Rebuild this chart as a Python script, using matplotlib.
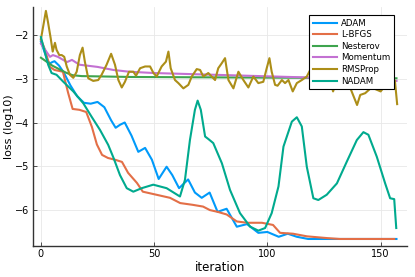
import numpy as np
import matplotlib
matplotlib.use("Agg")
import matplotlib.pyplot as plt

# series (iteration, log10 loss)
adam_x = [0, 2, 3, 4, 5, 6, 8, 10, 13, 16, 19, 22, 25, 28, 31, 33, 35, 37, 40, 43, 46, 49, 52,
          55.5, 58, 61, 65, 68, 71, 74.5, 78, 82, 86.5, 91, 96, 100, 105, 109, 113, 118, 157]
adam_y = [-2.15, -2.45, -2.6, -2.65, -2.62, -2.6, -2.7, -2.85, -3.15, -3.4, -3.55, -3.57, -3.53,
          -3.65, -3.95, -4.12, -4.05, -4.0, -4.3, -4.67, -4.58, -4.85, -5.29, -5.01, -5.2, -5.5,
          -5.3, -5.6, -5.72, -5.6, -6.04, -5.97, -6.38, -6.32, -6.52, -6.5, -6.61, -6.54, -6.61,
          -6.66, -6.66]

lbfgs_x = [0, 1.8, 4, 6, 9.7, 12, 14, 17, 20, 22.5, 24.7, 27, 29.6, 32.7, 35.8, 38.5, 42.4, 45,
           51, 57, 61.5, 67, 71.6, 74.6, 78, 82, 86.5, 91, 97.6, 102.5, 105.6, 111.3, 117.5,
           126.4, 132, 156]
lbfgs_y = [-2.1, -2.34, -2.73, -2.8, -2.84, -3.32, -3.69, -3.71, -3.76, -4.1, -4.5, -4.74, -4.81,
           -4.85, -4.9, -5.15, -5.38, -5.58, -5.65, -5.72, -5.84, -5.88, -5.92, -6.0, -6.04, -6.1,
           -6.26, -6.29, -6.29, -6.34, -6.52, -6.54, -6.6, -6.64, -6.66, -6.66]

nesterov_x = [0, 5, 11, 14, 18, 40, 80, 120, 157]
nesterov_y = [-2.52, -2.7, -2.86, -2.92, -2.94, -2.96, -2.97, -2.98, -2.99]

momentum_x = [0, 2, 4, 5.3, 7.5, 11.5, 13.7, 17, 25, 32, 39, 50, 70, 90, 110, 140, 157]
momentum_y = [-2.2, -2.35, -2.5, -2.46, -2.5, -2.62, -2.57, -2.68, -2.73, -2.8, -2.84, -2.87,
              -2.9, -2.93, -2.96, -3.0, -3.05]

rmsprop_x = [0, 2.2, 3.1, 4.3, 5.2, 6.2, 6.9, 8.1, 9.2, 10.3, 11.4, 12.8, 14.3, 15.8, 17.2, 18.4,
             19.4, 20.9, 23.1, 25.3, 26.8, 29, 31, 32.7, 34.2, 35.7, 37.1, 38.9, 40.8, 42, 43.8,
             46, 48.2, 49.7, 51.1, 53.3, 55.2, 56.3, 57.3, 59.2, 60.7, 62.9, 65.1, 66.6, 68.8,
             70.3, 71.7, 73.9, 75.4, 76.9, 78.3, 79.8, 81.3, 82.8, 85, 87.2, 89.4, 91.6, 93.8,
             96, 98.2, 99.7, 100.9, 101.9, 103.4, 104.5, 106.4, 107.8, 109.3, 111.2, 113, 115.2,
             117.4, 118.9, 121, 124, 127, 129, 131, 134, 136.9, 139.6, 141, 143.2, 146, 150, 153,
             156.3, 157.3]
rmsprop_y = [-2.1, -1.45, -1.7, -2.07, -2.38, -2.18, -2.34, -2.46, -2.46, -2.5, -2.72, -2.91,
             -2.98, -2.84, -2.46, -2.29, -2.61, -2.99, -3.05, -3.03, -2.91, -2.68, -2.43, -2.68,
             -3.03, -3.2, -3.07, -2.84, -2.84, -2.93, -2.76, -2.72, -2.72, -2.87, -2.95, -2.72,
             -2.61, -2.38, -2.76, -3.03, -3.1, -3.22, -3.14, -2.95, -2.78, -2.8, -2.95, -2.87,
             -2.95, -3.03, -2.76, -2.65, -2.53, -3.03, -3.22, -2.84, -3.03, -3.2, -2.95, -3.1,
             -3.07, -2.76, -2.53, -2.84, -3.14, -3.16, -3.03, -3.1, -3.03, -3.29, -3.1, -3.03,
             -2.95, -2.8, -2.95, -3.1, -2.9, -3.29, -3.0, -3.1, -3.25, -3.6, -3.37, -3.33, -3.2,
             -3.29, -3.1, -3.04, -3.58]

nadam_x = [0, 3.2, 4.7, 6.9, 9.9, 14.3, 18.7, 22.4, 26.1, 29.7, 32, 34.9, 37.9, 40.8, 44.5,
           49.6, 55.5, 61.4, 63.6, 65.8, 68, 69.2, 70.6, 72.5, 74, 76.1, 79.9, 83.5, 87.9, 92.4,
           96, 99, 101.9, 104.9, 107.1, 110.8, 113, 115.2, 117.4, 120.3, 122.5, 126.2, 130.7,
           135.1, 139.5, 142.4, 144.6, 148.3, 152, 154.2, 156, 156.9]
nadam_y = [-2.05, -2.68, -2.87, -2.91, -3.07, -3.29, -3.56, -3.87, -4.17, -4.51, -4.8, -5.2,
           -5.5, -5.58, -5.5, -5.42, -5.5, -5.69, -5.31, -4.4, -3.71, -3.5, -3.71, -4.32, -4.38,
           -4.47, -4.93, -5.54, -6.07, -6.38, -6.47, -6.41, -6.07, -5.46, -4.55, -3.98, -3.88,
           -4.09, -5.01, -5.73, -5.77, -5.65, -5.39, -4.89, -4.4, -4.22, -4.28, -4.78, -5.39,
           -5.73, -5.75, -6.41]

series = [
    ("ADAM", adam_x, adam_y, "#009AFA"),
    ("L-BFGS", lbfgs_x, lbfgs_y, "#E36F47"),
    ("Nesterov", nesterov_x, nesterov_y, "#3EA44E"),
    ("Momentum", momentum_x, momentum_y, "#C371D2"),
    ("RMSProp", rmsprop_x, rmsprop_y, "#AC8E18"),
    ("NADAM", nadam_x, nadam_y, "#00AA8E"),
]

plt.rcParams["font.family"] = ["DejaVu Sans"]

fig = plt.figure(figsize=(4.15, 2.77), dpi=100)
ax = fig.add_axes([0.0795, 0.112, 0.9015, 0.863])

for name, xs, ys, col in series:
    ax.plot(xs, ys, color=col, linewidth=1.5, label=name)

ax.set_xlim(-3.5, 161.7)
ax.set_ylim(-6.82, -1.36)
ax.set_xticks([0, 50, 100, 150])
ax.set_yticks([-6, -5, -4, -3, -2])
ax.grid(True, color="#e8e8e8", linewidth=0.6)
ax.set_axisbelow(True)
for s in ["top", "right"]:
    ax.spines[s].set_visible(False)
for s in ["left", "bottom"]:
    ax.spines[s].set_linewidth(1.0)
    ax.spines[s].set_color("#333333")
ax.tick_params(direction="in", length=3, width=0.6, labelsize=7, colors="#333333",
               labelcolor="black", pad=2.5)
ax.set_xlabel("iteration", fontsize=8.5, labelpad=1)
ax.set_ylabel("loss (log10)", fontsize=8, labelpad=1)

leg = ax.legend(loc="upper right", bbox_to_anchor=(0.965, 0.967), borderaxespad=0,
                fontsize=6.2, handlelength=2.7, labelspacing=0.3, fancybox=False,
                framealpha=1, edgecolor="black", borderpad=0.45, handletextpad=0.5)
leg.get_frame().set_linewidth(0.8)

fig.savefig("out.png", dpi=100)
